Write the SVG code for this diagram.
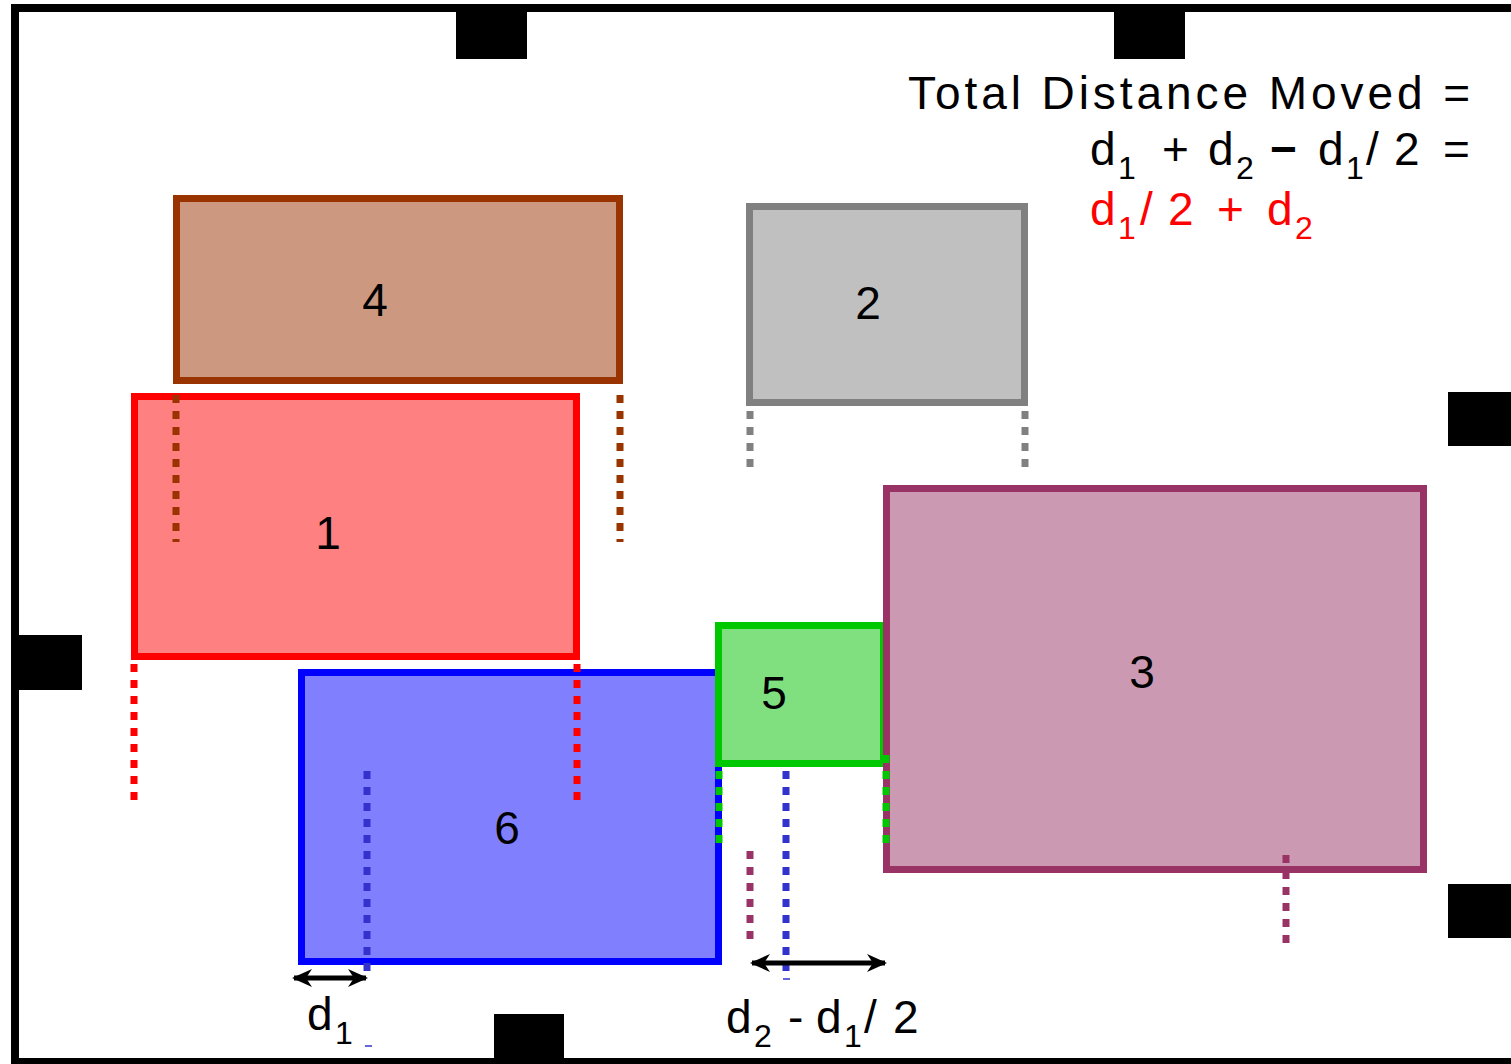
<svg xmlns="http://www.w3.org/2000/svg" width="1511" height="1064" viewBox="0 0 1511 1064">
<style>
text{font-family:"Liberation Sans",Arial,sans-serif;font-size:46px;fill:#000}
.red{fill:#ff0000}
.sub{font-size:32px}
.lbl{text-anchor:middle}
.box{stroke-width:7}
.dot{stroke-width:7;stroke-dasharray:8 8;fill:none}
.blk{fill:#000}
.arr{stroke:#000;stroke-width:5;fill:none;marker-start:url(#ah);marker-end:url(#ah)}
.minus{font-weight:bold}
</style>
<defs>
<marker id="ah" viewBox="0 0 20 18" refX="18" refY="9" markerWidth="20" markerHeight="18" markerUnits="userSpaceOnUse" orient="auto-start-reverse">
<path d="M0,0 L20,9 L0,18 L6,9 Z" fill="#000"/>
</marker>
</defs>
<rect width="1511" height="1064" fill="#fff"/>
<g id="frame">
<rect x="15" y="8" width="1500" height="1054" fill="none" stroke="#000" stroke-width="8"/>
<rect class="blk" x="456" y="4" width="71" height="55"/>
<rect class="blk" x="1114" y="4" width="71" height="55"/>
<rect class="blk" x="11" y="635" width="71" height="55"/>
<rect class="blk" x="494" y="1014" width="70" height="50"/>
<rect class="blk" x="1448" y="392" width="63" height="54"/>
<rect class="blk" x="1448" y="884" width="63" height="54"/>
</g>
<g id="node4">
<rect class="box" x="176.5" y="198.5" width="443" height="182" fill="#cc9980" stroke="#993300"/>
<text class="lbl" x="375" y="316">4</text>
</g>
<g id="node2">
<rect class="box" x="749.5" y="206.5" width="275" height="196" fill="#c0c0c0" stroke="#808080"/>
<text class="lbl" x="868" y="319">2</text>
</g>
<g id="node1">
<rect class="box" x="134.5" y="396.5" width="442" height="260" fill="#ff8080" stroke="#ff0000"/>
<text class="lbl" x="328" y="549">1</text>
</g>
<g id="node6">
<rect class="box" x="301.5" y="672.5" width="417" height="289" fill="#8080ff" stroke="#0000ff"/>
<text class="lbl" x="507" y="844">6</text>
</g>
<g id="node5">
<rect class="box" x="718.5" y="625.5" width="165" height="138" fill="#80e080" stroke="#00c800"/>
<text class="lbl" x="774" y="709">5</text>
</g>
<g id="node3">
<rect class="box" x="886.5" y="488.5" width="537" height="381" fill="#cc99b3" stroke="#993366"/>
<text class="lbl" x="1142" y="688">3</text>
</g>
<g id="connectors">
<line class="dot" x1="176" y1="395" x2="176" y2="542" stroke="#993300"/>
<line class="dot" x1="620" y1="395" x2="620" y2="542" stroke="#993300"/>
<line class="dot" x1="750" y1="411" x2="750" y2="470" stroke="#808080"/>
<line class="dot" x1="1025" y1="411" x2="1025" y2="470" stroke="#808080"/>
<line class="dot" x1="134" y1="664" x2="134" y2="803" stroke="#ff0000"/>
<line class="dot" x1="577" y1="664" x2="577" y2="803" stroke="#ff0000"/>
<line class="dot" x1="367" y1="771" x2="367" y2="971" stroke="#3333cc"/>
<line x1="365" y1="1046" x2="372" y2="1046" stroke="#3333cc" stroke-width="1.5"/>
<line class="dot" x1="786" y1="771" x2="786" y2="971" stroke="#3333cc"/>
<line x1="783" y1="979" x2="790" y2="979" stroke="#3333cc" stroke-width="1.5"/>
<line class="dot" x1="719" y1="771" x2="719" y2="846" stroke="#00c800"/>
<line class="dot" x1="886" y1="755" x2="886" y2="843" stroke="#00c800"/>
<line class="dot" x1="750" y1="851" x2="750" y2="941" stroke="#993366"/>
<line class="dot" x1="1286" y1="855" x2="1286" y2="944" stroke="#993366"/>
<line class="arr" x1="294" y1="978" x2="366" y2="978"/>
<line class="arr" x1="752" y1="963" x2="885" y2="963"/>
</g>
<g id="formula">
<text x="908" y="109" textLength="562" lengthAdjust="spacing">Total Distance Moved =</text>
<text y="165"><tspan x="1090">d</tspan><tspan class="sub" x="1118" dy="14">1</tspan><tspan x="1162" dy="-14">+</tspan><tspan x="1208">d</tspan><tspan class="sub" x="1236" dy="14">2</tspan><tspan class="minus" x="1270" dy="-14">−</tspan><tspan x="1318">d</tspan><tspan class="sub" x="1346" dy="14">1</tspan><tspan x="1366" dy="-14">/</tspan><tspan x="1394">2</tspan><tspan x="1443">=</tspan></text>
<text class="red" y="225"><tspan x="1090">d</tspan><tspan class="sub" x="1118" dy="14">1</tspan><tspan x="1140" dy="-14">/</tspan><tspan x="1168">2</tspan><tspan x="1217">+</tspan><tspan x="1267">d</tspan><tspan class="sub" x="1295" dy="14">2</tspan></text>
</g>
<g id="labels">
<text y="1030"><tspan x="307">d</tspan><tspan class="sub" x="335" dy="14">1</tspan></text>
<text y="1033"><tspan x="726">d</tspan><tspan class="sub" x="754" dy="14">2</tspan><tspan x="788" dy="-14">-</tspan><tspan x="816">d</tspan><tspan class="sub" x="844" dy="14">1</tspan><tspan x="864" dy="-14">/</tspan><tspan x="893">2</tspan></text>
</g>
</svg>
